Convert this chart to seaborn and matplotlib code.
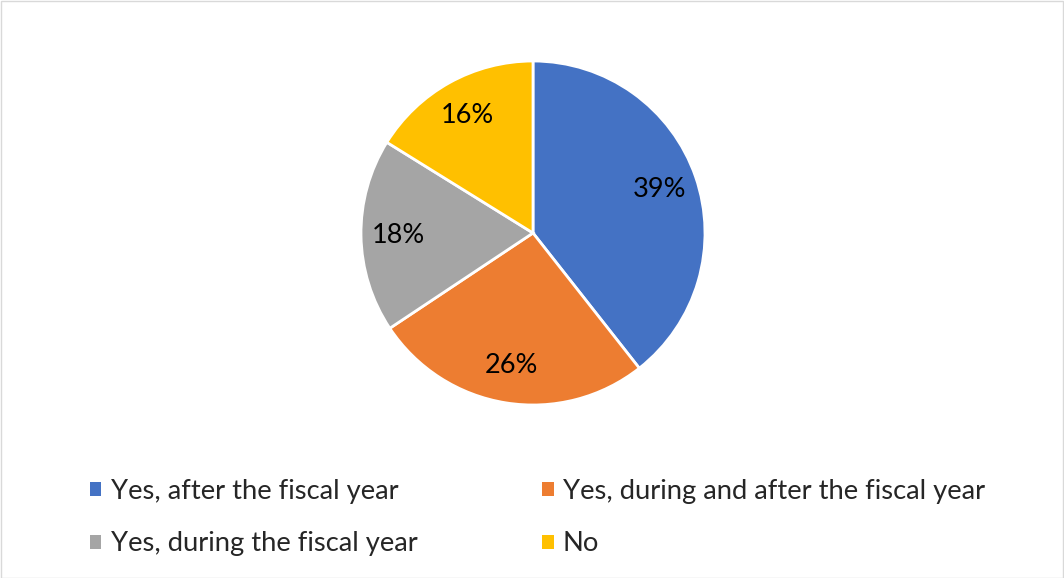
import matplotlib
matplotlib.use("Agg")
import matplotlib.pyplot as plt
from matplotlib.patches import Patch, Rectangle
import seaborn as sns

# Survey answers and their shares (percent)
categories = [
    "Yes, after the fiscal year",
    "Yes, during and after the fiscal year",
    "Yes, during the fiscal year",
    "No",
]
shares = [39, 26, 18, 16]
colors = ["#4472C4", "#ED7D31", "#A5A5A5", "#FFC000"]

sns.set_theme(style="white")
plt.rcParams["font.family"] = ["Lato", "DejaVu Sans"]

W, H = 1064, 578
fig = plt.figure(figsize=(W / 100, H / 100), dpi=100)
fig.patch.set_facecolor("white")

# Pie area: centre and radius in pixels
cx, cy, r = 533, 233, 172
ax = fig.add_axes([(cx - r) / W, (H - cy - r) / H, 2 * r / W, 2 * r / H])

wedges, _, autotexts = ax.pie(
    shares,
    colors=sns.color_palette(colors),
    startangle=90,
    counterclock=False,
    autopct=lambda p: f"{p:.0f}%",
    pctdistance=0.78,
    wedgeprops=dict(edgecolor="white", linewidth=2),
    textprops=dict(fontsize=19.5, color="black"),
)
ax.set_xlim(-1, 1)
ax.set_ylim(-1, 1)
ax.set_aspect("equal")
ax.axis("off")

# Legend in two rows: blue/orange on top, gray/yellow below
order = [0, 2, 1, 3]
handles = [Patch(facecolor=colors[i], edgecolor="none") for i in order]
labels = [categories[i] for i in order]
fig.legend(
    handles,
    labels,
    ncol=2,
    loc="upper left",
    bbox_to_anchor=(90 / W, 1 - 479 / H),
    frameon=False,
    fontsize=19.7,
    handlelength=0.42,
    handleheight=0.42,
    handletextpad=0.33,
    columnspacing=4.56,
    labelspacing=1.0,
    borderaxespad=0,
    borderpad=0,
)

# Thin light frame around the chart area
fig.add_artist(Rectangle((0.5 / W, 0.5 / H), 1 - 1.5 / W, 1 - 1.5 / H,
                         transform=fig.transFigure, fill=False,
                         edgecolor="#D9D9D9", linewidth=1))

fig.savefig("out.png", dpi=100, facecolor="white")
